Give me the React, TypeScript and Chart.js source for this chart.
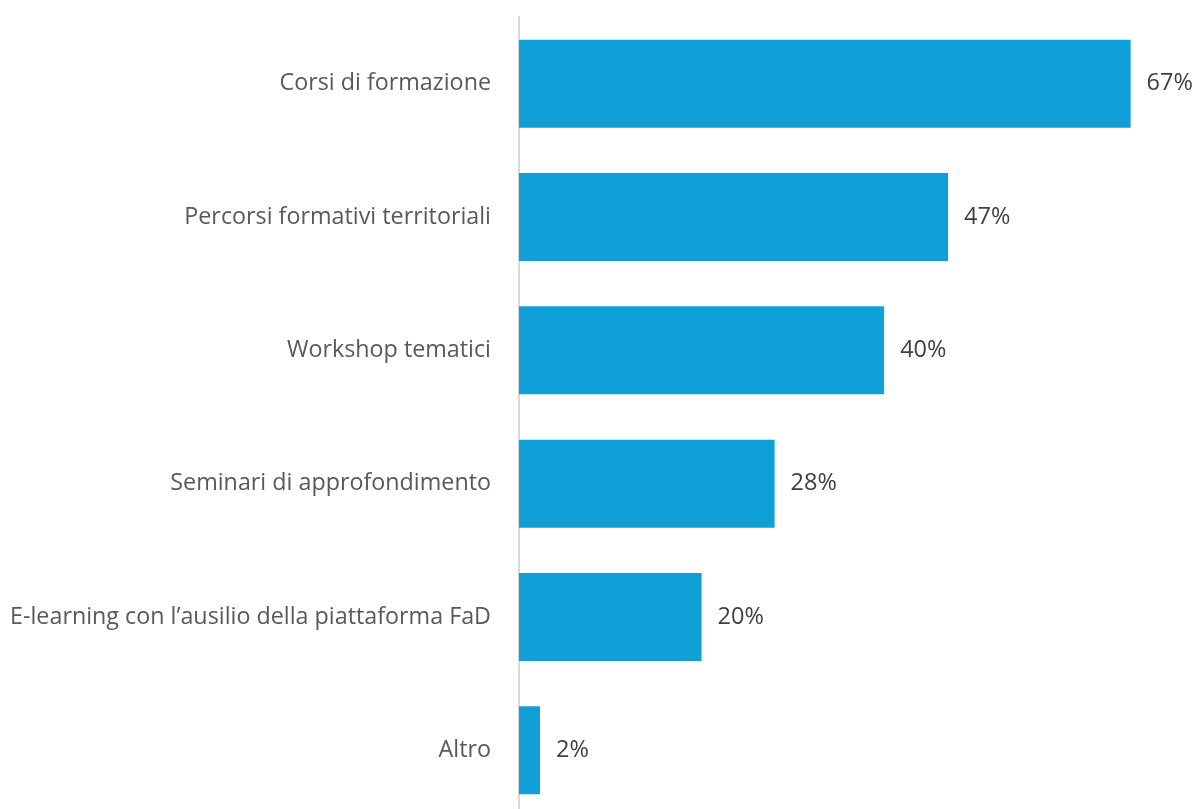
import React, { useEffect, useRef } from "react";
import { Chart, registerables } from "chart.js";

Chart.register(...registerables);

const categories = [
  "Corsi di formazione",
  "Percorsi formativi territoriali",
  "Workshop tematici",
  "Seminari di approfondimento",
  "E-learning con l\u2019ausilio della piattaforma FaD",
  "Altro",
];
const values = [67, 47, 40, 28, 20, 2.3];
const valueLabels = ["67%", "47%", "40%", "28%", "20%", "2%"];

const FONT = "'Open Sans', sans-serif";

export default function App() {
  const ref = useRef<HTMLCanvasElement | null>(null);
  useEffect(() => {
    if (!ref.current) return;
    const valuePlugin = {
      id: "valueLabels",
      afterDatasetsDraw(chart: any) {
        const ctx = chart.ctx;
        const meta = chart.getDatasetMeta(0);
        ctx.save();
        ctx.fillStyle = "#404040";
        ctx.font = `23.5px ${FONT}`;
        ctx.textAlign = "left";
        ctx.textBaseline = "middle";
        meta.data.forEach((bar: any, i: number) => {
          ctx.fillText(valueLabels[i], bar.x + 16, bar.y);
        });
        ctx.restore();
      },
    };
    const chart = new Chart(ref.current, {
      type: "bar",
      data: {
        labels: categories,
        datasets: [
          {
            data: values,
            backgroundColor: "#119fd8",
            barPercentage: 0.66,
            categoryPercentage: 1,
          },
        ],
      },
      options: {
        indexAxis: "y",
        animation: false,
        responsive: false,
        maintainAspectRatio: false,
        layout: { padding: { top: 16, bottom: 13, right: 38, left: 0 } },
        plugins: { legend: { display: false }, tooltip: { enabled: false } },
        scales: {
          x: { display: false, min: 0, max: 70 },
          y: {
            afterFit(scale: any) {
              scale.width = 519;
            },
            grid: { display: false, drawTicks: false },
            border: { display: true, color: "#d9d9d9", width: 2 },
            ticks: {
              padding: 28,
              color: "#595959",
              font: { family: FONT, size: 23.3 },
            },
          },
        },
      },
      plugins: [valuePlugin],
    });
    return () => chart.destroy();
  }, []);
  return (
    <div
      style={{
        position: "absolute",
        left: 0,
        top: 0,
        width: 1196,
        height: 809,
        overflow: "hidden",
        background: "#fff",
      }}
    >
      <canvas
        ref={ref}
        width={1196}
        height={884}
        style={{ display: "block", marginTop: -25 }}
      />
    </div>
  );
}
